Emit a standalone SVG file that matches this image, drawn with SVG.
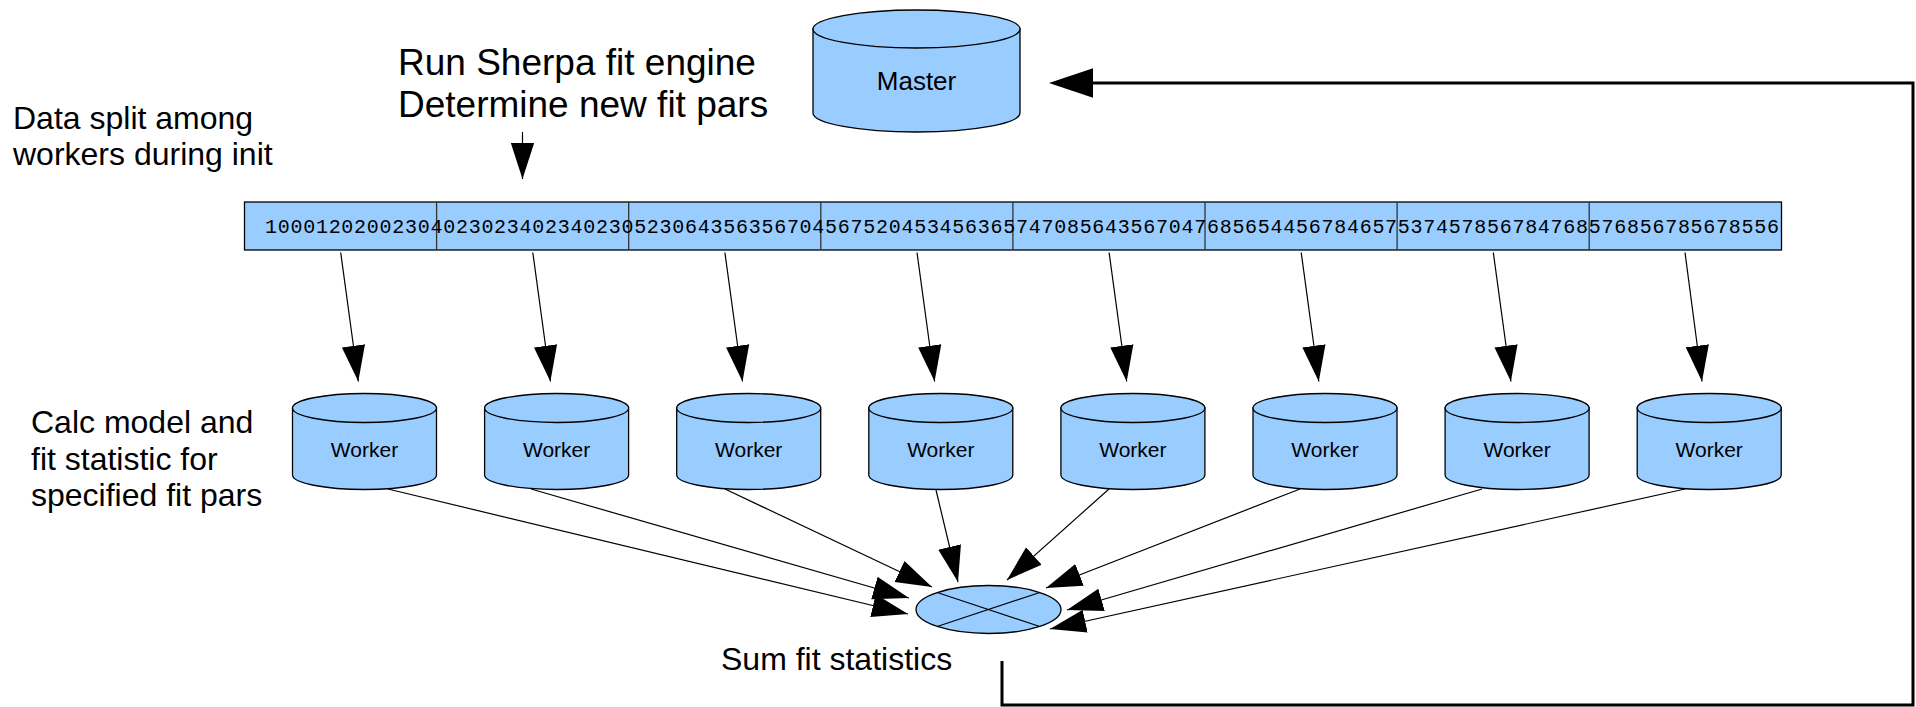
<svg xmlns="http://www.w3.org/2000/svg" width="1916" height="707" viewBox="0 0 1916 707">
<style>
.shape{fill:#99ccff;stroke:#000;stroke-width:1.3}
.lbl{font-family:"Liberation Sans",Arial,sans-serif;fill:#000}
.big{font-size:37px}
.mid{font-size:32px}
.node{font-size:21px;text-anchor:middle}
.mono{font-family:"Liberation Mono","Courier New",monospace;font-size:20px;fill:#000}
.conn{fill:none;stroke:#000;stroke-width:1.2}
.div{stroke:#333;stroke-width:1.3}
</style>
<defs>
<marker id="ah" markerUnits="userSpaceOnUse" markerWidth="36" markerHeight="24" viewBox="0 0 34 22" refX="34" refY="11" orient="auto">
<path d="M0,0 L34,11 L0,22 Z" fill="#000"/>
</marker>
<marker id="ahBig" markerUnits="userSpaceOnUse" markerWidth="44" markerHeight="30" viewBox="0 0 42 28" refX="0" refY="14" orient="auto">
<path d="M0,0 L42,14 L0,28 Z" fill="#000"/>
</marker>
</defs>
<rect width="1916" height="707" fill="#fff"/>

<g id="labels">
<text class="lbl big" x="398" y="75">Run Sherpa fit engine</text>
<text class="lbl big" x="398" y="117">Determine new fit pars</text>
<text class="lbl mid" x="13" y="129">Data split among</text>
<text class="lbl mid" x="13" y="165">workers during init</text>
<text class="lbl mid" x="31" y="433">Calc model and</text>
<text class="lbl mid" x="31" y="469.5">fit statistic for</text>
<text class="lbl mid" x="31" y="506">specified fit pars</text>
<text class="lbl mid" x="721" y="670">Sum fit statistics</text>
</g>

<g id="master">
<path class="shape" d="M813,29 V113 A103.5,19 0 0 0 1020,113 V29 Z"/>
<ellipse class="shape" cx="916.5" cy="29" rx="103.5" ry="19"/>
<text class="lbl" x="916.5" y="90" font-size="26" text-anchor="middle">Master</text>
</g>

<g id="data">
<rect class="shape" x="244.5" y="202" width="1537" height="48"/>
<line class="div" x1="436.6" y1="202" x2="436.6" y2="250"/>
<line class="div" x1="628.7" y1="202" x2="628.7" y2="250"/>
<line class="div" x1="820.8" y1="202" x2="820.8" y2="250"/>
<line class="div" x1="1012.9" y1="202" x2="1012.9" y2="250"/>
<line class="div" x1="1205" y1="202" x2="1205" y2="250"/>
<line class="div" x1="1397.1" y1="202" x2="1397.1" y2="250"/>
<line class="div" x1="1589.2" y1="202" x2="1589.2" y2="250"/>
<text class="mono" x="265" y="233" textLength="1514" lengthAdjust="spacing">10001202002304023023402340230523064356356704567520453456365747085643567047685654456784657537457856784768576856785678556</text>
</g>

<g id="worker1"><path class="shape" d="M292.5,408 V475 A72,14.5 0 0 0 436.5,475 V408 Z"/><ellipse class="shape" cx="364.5" cy="408" rx="72" ry="14.5"/><text class="lbl node" x="364.5" y="457">Worker</text></g>
<g id="worker2"><path class="shape" d="M484.6,408 V475 A72,14.5 0 0 0 628.6,475 V408 Z"/><ellipse class="shape" cx="556.6" cy="408" rx="72" ry="14.5"/><text class="lbl node" x="556.6" y="457">Worker</text></g>
<g id="worker3"><path class="shape" d="M676.7,408 V475 A72,14.5 0 0 0 820.7,475 V408 Z"/><ellipse class="shape" cx="748.7" cy="408" rx="72" ry="14.5"/><text class="lbl node" x="748.7" y="457">Worker</text></g>
<g id="worker4"><path class="shape" d="M868.8,408 V475 A72,14.5 0 0 0 1012.8,475 V408 Z"/><ellipse class="shape" cx="940.8" cy="408" rx="72" ry="14.5"/><text class="lbl node" x="940.8" y="457">Worker</text></g>
<g id="worker5"><path class="shape" d="M1060.9,408 V475 A72,14.5 0 0 0 1204.9,475 V408 Z"/><ellipse class="shape" cx="1132.9" cy="408" rx="72" ry="14.5"/><text class="lbl node" x="1132.9" y="457">Worker</text></g>
<g id="worker6"><path class="shape" d="M1253,408 V475 A72,14.5 0 0 0 1397,475 V408 Z"/><ellipse class="shape" cx="1325" cy="408" rx="72" ry="14.5"/><text class="lbl node" x="1325" y="457">Worker</text></g>
<g id="worker7"><path class="shape" d="M1445.1,408 V475 A72,14.5 0 0 0 1589.1,475 V408 Z"/><ellipse class="shape" cx="1517.1" cy="408" rx="72" ry="14.5"/><text class="lbl node" x="1517.1" y="457">Worker</text></g>
<g id="worker8"><path class="shape" d="M1637.2,408 V475 A72,14.5 0 0 0 1781.2,475 V408 Z"/><ellipse class="shape" cx="1709.2" cy="408" rx="72" ry="14.5"/><text class="lbl node" x="1709.2" y="457">Worker</text></g>

<g id="sum">
<ellipse class="shape" cx="988.5" cy="609.5" rx="72.5" ry="24"/>
<line class="conn" x1="937.2" y1="592.5" x2="1039.8" y2="626.5"/>
<line class="conn" x1="937.2" y1="626.5" x2="1039.8" y2="592.5"/>
</g>

<g id="connectors">
<line class="conn" x1="522.5" y1="132" x2="522.5" y2="179" marker-end="url(#ah)"/>
<line class="conn" x1="340.7" y1="252.5" x2="358.3" y2="381.5" marker-end="url(#ah)"/>
<line class="conn" x1="532.8" y1="252.5" x2="550.4" y2="381.5" marker-end="url(#ah)"/>
<line class="conn" x1="724.9" y1="252.5" x2="742.5" y2="381.5" marker-end="url(#ah)"/>
<line class="conn" x1="917" y1="252.5" x2="934.6" y2="381.5" marker-end="url(#ah)"/>
<line class="conn" x1="1109.1" y1="252.5" x2="1126.7" y2="381.5" marker-end="url(#ah)"/>
<line class="conn" x1="1301.2" y1="252.5" x2="1318.8" y2="381.5" marker-end="url(#ah)"/>
<line class="conn" x1="1493.3" y1="252.5" x2="1510.9" y2="381.5" marker-end="url(#ah)"/>
<line class="conn" x1="1685" y1="252.5" x2="1702" y2="381.5" marker-end="url(#ah)"/>
<line class="conn" x1="388" y1="489" x2="908" y2="614" marker-end="url(#ah)"/>
<line class="conn" x1="531" y1="489" x2="909" y2="598" marker-end="url(#ah)"/>
<line class="conn" x1="725" y1="489" x2="932" y2="587" marker-end="url(#ah)"/>
<line class="conn" x1="936" y1="490" x2="958" y2="582" marker-end="url(#ah)"/>
<line class="conn" x1="1109" y1="489" x2="1007" y2="580" marker-end="url(#ah)"/>
<line class="conn" x1="1300" y1="489" x2="1046" y2="588" marker-end="url(#ah)"/>
<line class="conn" x1="1482" y1="489" x2="1067" y2="610" marker-end="url(#ah)"/>
<line class="conn" x1="1685" y1="489" x2="1050" y2="629" marker-end="url(#ah)"/>
<path d="M1002,661 V705 H1913 V83 H1093" fill="none" stroke="#000" stroke-width="3" marker-end="url(#ahBig)"/>
</g>
</svg>
